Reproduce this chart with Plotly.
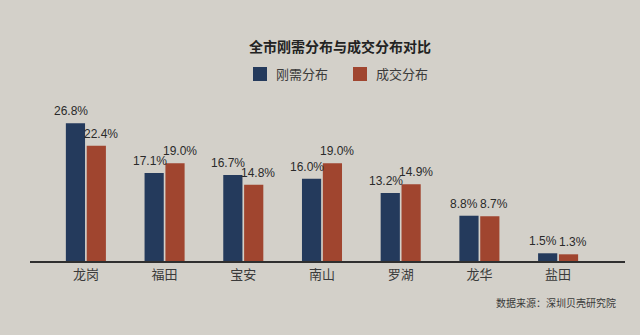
import plotly.graph_objects as go

# District names and the two shares (%) per district
districts = ["龙岗", "福田", "宝安", "南山", "罗湖", "龙华", "盐田"]
demand_share = [26.8, 17.1, 16.7, 16.0, 13.2, 8.8, 1.5]
deal_share = [22.4, 19.0, 14.8, 19.0, 14.9, 8.7, 1.3]

series_names = ["刚需分布", "成交分布"]
navy = "#243a5c"
brick = "#a0452f"
bg = "#d3d0c9"
font_family = "Noto Sans CJK SC"

fig = go.Figure()
for name, vals, color in [(series_names[0], demand_share, navy),
                          (series_names[1], deal_share, brick)]:
    fig.add_trace(go.Bar(
        x=districts, y=vals, name=name,
        marker=dict(color=color, line=dict(width=0)),
        showlegend=False,
    ))

annotations = []
# Value labels above each bar, nudged apart so neighbours stay readable
for vals, shift in [(demand_share, -15), (deal_share, 15)]:
    for d, v in zip(districts, vals):
        annotations.append(dict(x=d, y=v, text=f"{v:.1f}%", showarrow=False,
                                xshift=shift, yshift=3, yanchor="bottom",
                                font=dict(size=12, color="#2a2a2a", family="Liberation Sans")))

# Legend: coloured squares with labels
legend_items = [(series_names[0], navy, 253), (series_names[1], brick, 353)]
shapes = []
for name, color, x0 in legend_items:
    shapes.append(dict(type="rect", xref="paper", yref="paper",
                       x0=(x0 - 30) / 595, x1=(x0 + 14 - 30) / 595,
                       y0=(261 - 81) / 161, y1=(261 - 67) / 161,
                       fillcolor=color, line=dict(width=0)))
    annotations.append(dict(text=name, xref="paper", yref="paper",
                            x=(x0 + 21 - 30) / 595, y=(261 - 74) / 161,
                            xanchor="left", yanchor="middle", showarrow=False,
                            font=dict(size=13, color="#3a3a3a", family=font_family)))

annotations.append(dict(text="<b>全市刚需分布与成交分布对比</b>", xref="paper", yref="paper",
                        x=(340 - 30) / 595, y=(261 - 46) / 161,
                        xanchor="center", yanchor="middle", showarrow=False,
                        font=dict(size=14, color="#222222", family=font_family)))
annotations.append(dict(text="数据来源：深圳贝壳研究院", xref="paper", yref="paper",
                        x=(618 - 30) / 595, y=(261 - 302) / 161,
                        xanchor="right", yanchor="middle", showarrow=False,
                        font=dict(size=10, color="#3a3a3a", family=font_family)))

fig.update_layout(
    width=640, height=335,
    margin=dict(l=30, r=15, t=100, b=74),
    paper_bgcolor=bg, plot_bgcolor=bg,
    barmode="group", bargap=0.47, bargroupgap=0.08,
    shapes=shapes, annotations=annotations,
    xaxis=dict(range=[-0.71, 6.85], showline=True, linecolor="#2f2f2f", linewidth=2,
               ticks="", showgrid=False, zeroline=False,
               tickfont=dict(size=13, color="#3a3a3a", family=font_family)),
    yaxis=dict(range=[0, 31.3], visible=False, showgrid=False, zeroline=False),
)

fig.write_html("out.html")
